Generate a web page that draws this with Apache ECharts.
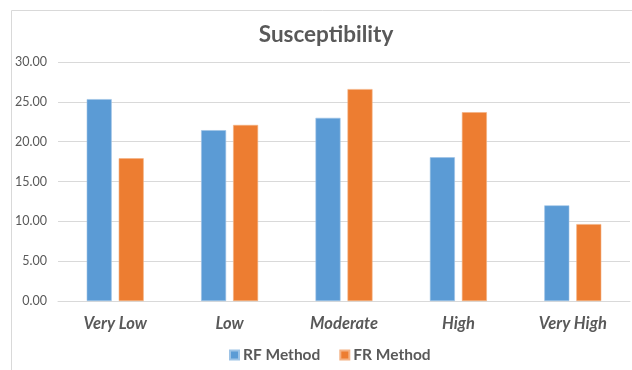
<!DOCTYPE html>
<html>
<head>
<meta charset="utf-8">
<script src="https://cdn.jsdelivr.net/npm/echarts@6/dist/echarts.min.js"></script>
<style>html,body{margin:0;padding:0;background:#fff}#c{width:632px;height:370px}</style>
</head>
<body>
<div id="c"></div>
<script>
const categories = ['Very Low', 'Low', 'Moderate', 'High', 'Very High'];
const rfMethod = [25.34, 21.44, 22.99, 18.04, 12.0];
const frMethod = [17.92, 22.1, 26.6, 23.7, 9.65];
const seriesNames = ['RF Method', 'FR Method'];
const yTicks = { min: 0, max: 30, interval: 5 };

const chart = echarts.init(document.getElementById('c'));
chart.setOption({
  animation: false,
  textStyle: { fontFamily: 'Lato, "Open Sans", sans-serif' },
  graphic: [{
    type: 'rect', left: 9, top: 8, silent: true,
    shape: { width: 700, height: 500 },
    style: { fill: 'none', stroke: '#D9D9D9', lineWidth: 1 }
  }],
  title: {
    text: 'Susceptibility', left: 321, top: 18, textAlign: 'center',
    textStyle: { fontSize: 22.5, fontWeight: 'bold', color: '#595959', fontFamily: 'Lato, sans-serif' }
  },
  legend: {
    data: seriesNames, left: 229, top: 347, padding: 0, itemWidth: 9, itemHeight: 9, itemGap: 19,
    icon: 'rect',
    textStyle: { fontSize: 15.5, fontWeight: 'bold', color: '#595959', fontFamily: 'Lato, sans-serif', padding: [0, 0, 0, -1] }
  },
  grid: { left: 58, right: 2, top: 62, bottom: 69, containLabel: false },
  xAxis: {
    type: 'category', data: categories,
    axisLine: { lineStyle: { color: '#D9D9D9' } },
    axisTick: { show: false },
    axisLabel: { fontSize: 16.5, fontWeight: 'bold', fontStyle: 'italic', color: '#595959', margin: 14 }
  },
  yAxis: {
    type: 'value', min: yTicks.min, max: yTicks.max, interval: yTicks.interval,
    axisLine: { show: false }, axisTick: { show: false },
    splitLine: { lineStyle: { color: '#D9D9D9' } },
    axisLabel: { fontSize: 12.5, color: '#595959', margin: 11, formatter: v => v.toFixed(2) }
  },
  series: [
    { name: seriesNames[0], type: 'bar', data: rfMethod, barWidth: 25, barGap: '28%',
      itemStyle: { color: '#5B9BD5', borderColor: '#9DC3E6', borderWidth: 0.6 } },
    { name: seriesNames[1], type: 'bar', data: frMethod, barWidth: 25, barGap: '28%',
      itemStyle: { color: '#ED7D31', borderColor: '#F4B183', borderWidth: 0.6 } }
  ]
});
</script>
</body>
</html>
